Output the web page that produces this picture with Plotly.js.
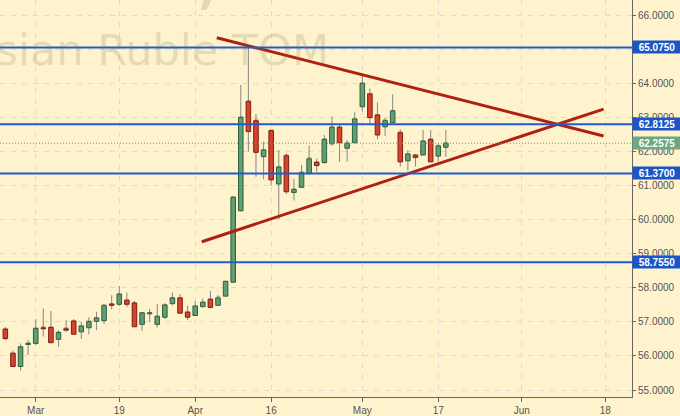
<!DOCTYPE html>
<html>
<head>
<meta charset="utf-8">
<script src="https://cdn.plot.ly/plotly-3.0.1.min.js"></script>
<style>html,body{margin:0;padding:0;background:#fff3ce;}#chart{width:680px;height:416px;}</style>
</head>
<body>
<div id="chart"></div>
<script>
// ---- data ----
const dates = ['Feb 22','Feb 26','Feb 27','Feb 28','Mar 1','Mar 2','Mar 5','Mar 6','Mar 7','Mar 9',
  'Mar 12','Mar 13','Mar 14','Mar 15','Mar 16','Mar 19','Mar 20','Mar 21','Mar 22','Mar 23',
  'Mar 26','Mar 27','Mar 28','Mar 29','Mar 30','Apr 2','Apr 3','Apr 4','Apr 5','Apr 6',
  'Apr 9','Apr 10','Apr 11','Apr 12','Apr 13','Apr 16','Apr 17','Apr 18','Apr 19','Apr 20',
  'Apr 23','Apr 24','Apr 25','Apr 26','Apr 27','Apr 28','Apr 30','May 2','May 3','May 4',
  'May 7','May 8','May 10','May 11','May 14','May 15','May 16','May 17','May 18'];
const openP  = [56.79,56.08,55.69,56.34,56.37,56.83,56.84,56.49,56.80,57.03,
  56.71,56.83,57.02,57.04,57.53,57.52,57.64,57.56,56.93,57.24,
  56.93,57.14,57.54,57.71,57.29,57.19,57.45,57.67,57.49,57.76,
  58.17,60.27,63.49,62.92,61.86,62.63,61.06,61.89,60.81,60.96,
  61.37,61.70,61.69,62.24,62.73,62.11,62.27,63.33,63.71,63.09,
  62.74,62.86,62.57,61.74,61.91,61.91,62.37,61.88,62.14];
const highP  = [56.86,56.16,56.37,56.47,57.08,57.40,57.32,56.76,57.06,57.09,
  57.00,57.14,57.30,57.53,57.79,58.06,57.87,57.62,57.30,57.38,
  57.53,57.55,57.87,57.82,57.48,57.62,57.69,57.91,57.79,58.20,
  60.70,63.97,65.075,63.12,62.30,62.63,62.06,61.96,61.21,61.62,
  62.19,61.81,62.50,63.04,62.79,62.35,63.17,64.24,63.87,63.46,
  63.01,63.70,62.67,62.06,61.94,62.65,62.65,62.26,62.65];
const lowP   = [56.47,55.68,55.57,56.03,56.32,56.57,56.39,56.27,56.71,56.64,
  56.50,56.64,56.76,56.94,57.37,57.47,57.43,56.86,56.74,56.99,
  56.84,57.09,57.49,57.26,57.06,57.19,57.43,57.43,57.49,57.76,
  58.15,60.25,62.01,61.27,61.20,61.01,60.03,60.76,60.57,60.96,
  61.32,61.42,61.65,62.18,61.71,61.71,62.27,63.19,62.84,62.37,
  62.47,62.86,61.57,61.45,61.57,61.91,61.71,61.71,61.86];
const closeP = [56.51,55.69,56.27,56.37,56.81,56.80,56.39,56.69,56.76,56.64,
  56.88,57.01,57.12,57.48,57.49,57.82,57.52,56.86,57.27,57.27,
  57.16,57.50,57.71,57.26,57.14,57.47,57.58,57.43,57.71,58.19,
  60.67,63.02,62.60,61.99,62.06,61.18,61.56,60.83,60.90,61.39,
  61.80,61.60,62.37,62.73,62.27,62.26,62.97,64.02,63.01,62.50,
  62.92,63.21,61.71,61.94,61.84,62.32,61.71,62.18,62.2575];

// x-axis ticks: trading-day index and label
const tickIdx  = [5, 16, 26, 36, 48, 58, 69, 80];
const tickText = ['Mar','19','Apr','16','May','17','Jun','18'];

// horizontal support / resistance levels and last price
const levels = [65.075, 62.8125, 61.37, 58.755];
const lastPrice = 62.2575;

// triangle trend lines (trading-day index, price)
const upperLineX = [28.84, 79.77];
const upperLineY = [65.36, 62.47];
const lowerLineX = [26.87, 79.77];
const lowerLineY = [59.36, 63.26];

// ---- styling ----
const BG = '#fff3ce';
const GREEN = '#5f9f73', GREEN_EDGE = '#2f5f3c';
const RED = '#d8412c', RED_EDGE = '#7c1f12';
const BLUE = '#1f5bd2';
const TREND = '#b0200c';

const idx = dates.map((d, k) => k + 1);
const up = closeP.map((c, k) => c >= openP[k]);
const bodyBase = openP.map((o, k) => Math.min(o, closeP[k]));
const bodyLen = openP.map((o, k) => Math.max(Math.abs(closeP[k] - o), 0.02));

const traces = [
  { // wicks
    type: 'bar', x: idx, base: lowP, y: highP.map((h, k) => h - lowP[k]),
    width: 0.14, marker: {color: '#8c8c8c', line: {width: 0}},
    hoverinfo: 'skip', showlegend: false
  },
  { // bodies
    type: 'bar', x: idx, base: bodyBase, y: bodyLen, width: 0.6,
    marker: {color: up.map(u => u ? GREEN : RED),
             line: {color: up.map(u => u ? GREEN_EDGE : RED_EDGE), width: 1}},
    text: dates, hoverinfo: 'text', showlegend: false
  },
  {type: 'scatter', mode: 'lines', x: upperLineX, y: upperLineY,
   line: {color: TREND, width: 3}, hoverinfo: 'skip', showlegend: false},
  {type: 'scatter', mode: 'lines', x: lowerLineX, y: lowerLineY,
   line: {color: TREND, width: 3}, hoverinfo: 'skip', showlegend: false}
];

const shapes = levels.map(v => ({
  type: 'line', xref: 'paper', x0: 0, x1: 1, yref: 'y', y0: v, y1: v,
  line: {color: BLUE, width: 2}, layer: 'above'
}));
shapes.push({type: 'line', xref: 'paper', x0: 0, x1: 1, yref: 'y', y0: lastPrice, y1: lastPrice,
  line: {color: '#6aa57a', width: 1, dash: '1px,2px'}, layer: 'above'});

const annotations = levels.map(v => ({
  xref: 'paper', x: 1, xanchor: 'left', yref: 'y', y: v, yanchor: 'middle',
  text: v.toFixed(4), showarrow: false, bgcolor: '#1b55c6', borderpad: 1,
  width: 46, height: 10, align: 'center',
  font: {family: 'Liberation Sans, Arial, sans-serif', size: 10, color: '#ffffff', weight: 'bold'}
}));
annotations.push({
  xref: 'paper', x: 1, xanchor: 'left', yref: 'y', y: lastPrice, yanchor: 'middle',
  text: lastPrice.toFixed(4), showarrow: false, bgcolor: '#6ea67e', borderpad: 1,
  width: 46, height: 10, align: 'center',
  font: {family: 'Liberation Sans, Arial, sans-serif', size: 10, color: '#ffffff', weight: 'bold'}
});
// watermark
annotations.push({
  xref: 'paper', x: -0.133, xanchor: 'left', yref: 'paper', y: 0.873, yanchor: 'middle',
  text: 'Russian Ruble TOM', showarrow: false,
  font: {family: 'DejaVu Sans, sans-serif', size: 43, color: 'rgba(120,110,80,0.2)'}
});
annotations.push({
  xref: 'paper', x: 0.33, xanchor: 'center', yref: 'paper', y: 0.945, yanchor: 'bottom',
  text: ',', showarrow: false,
  font: {family: 'DejaVu Sans, sans-serif', size: 90, color: 'rgba(120,110,80,0.2)'}
});

const layout = {
  width: 680, height: 416,
  margin: {l: 0, r: 48, t: 0, b: 19},
  paper_bgcolor: BG, plot_bgcolor: BG,
  barmode: 'overlay', showlegend: false,
  font: {family: 'Liberation Sans, Arial, sans-serif', size: 10, color: '#555'},
  xaxis: {
    range: [0.297, 83.51], tickmode: 'array', tickvals: tickIdx, ticktext: tickText,
    ticks: 'outside', ticklen: 4, tickcolor: '#666', showline: true, linecolor: '#666', linewidth: 1,
    showgrid: true, gridcolor: '#dedad2', griddash: '5px,6px', zeroline: false,
    tickfont: {size: 10, color: '#555'}, fixedrange: true
  },
  yaxis: {
    side: 'right', range: [54.794, 66.47], tick0: 55, dtick: 1, tickformat: '.4f',
    ticks: 'outside', ticklen: 3, tickcolor: '#666', showline: true, linecolor: '#666', linewidth: 1,
    showgrid: true, gridcolor: '#dedad2', griddash: '5px,6px', zeroline: false,
    tickfont: {size: 10, color: '#555'}, fixedrange: true
  },
  shapes: shapes, annotations: annotations
};

Plotly.newPlot('chart', traces, layout, {displayModeBar: false, staticPlot: true});
</script>
</body>
</html>
